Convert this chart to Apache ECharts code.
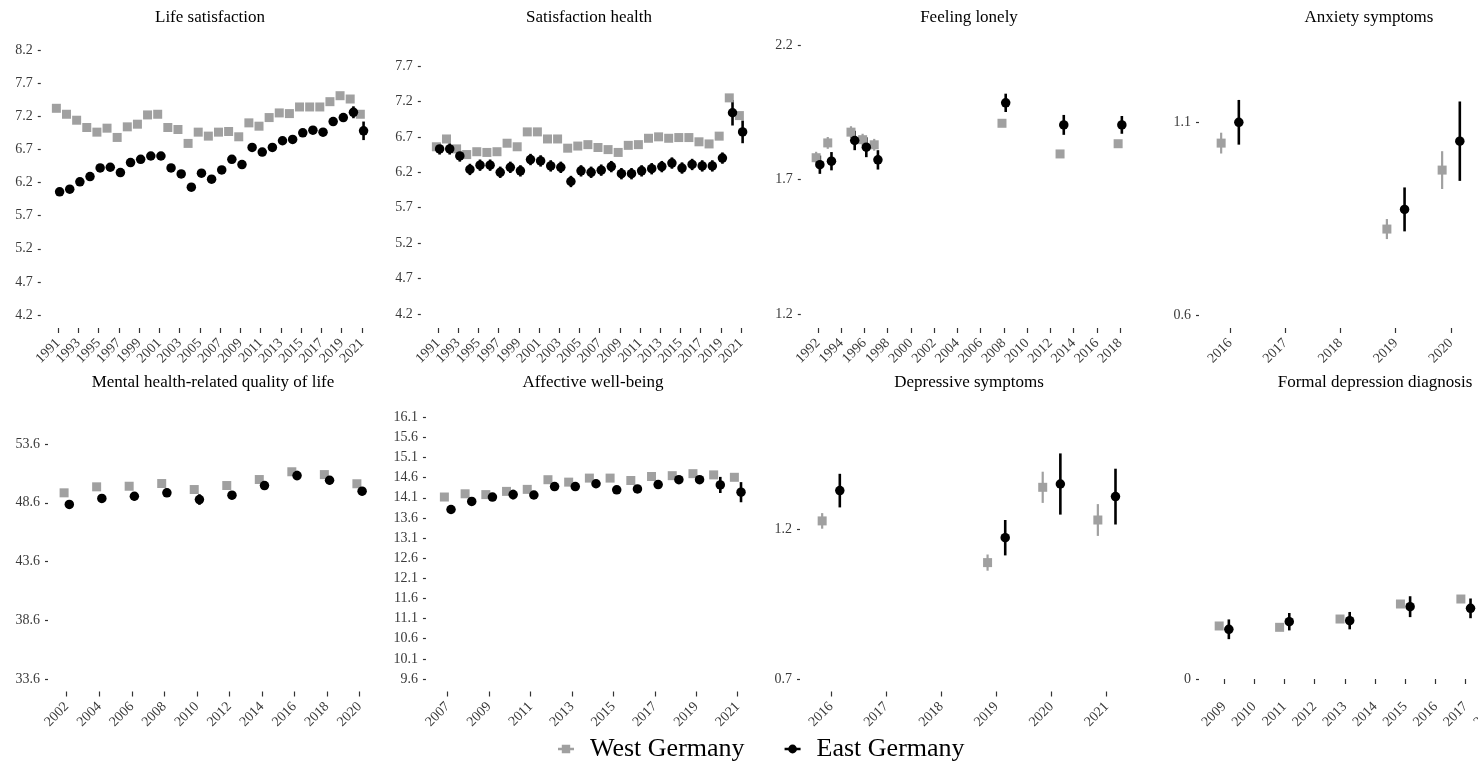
<!DOCTYPE html>
<html>
<head>
<meta charset="utf-8">
<script src="https://cdn.jsdelivr.net/npm/echarts@6/dist/echarts.min.js"></script>
<style>
  html, body { margin: 0; padding: 0; background: #ffffff; }
  #chart { width: 1478px; height: 772px; }
</style>
</head>
<body>
<div id="chart"></div>
<script>
// ---------- Life satisfaction ----------
const lifeYears = [1991,1992,1993,1994,1995,1996,1997,1998,1999,2000,2001,2002,2003,2004,2005,2006,2007,2008,2009,2010,2011,2012,2013,2014,2015,2016,2017,2018,2019,2020,2021];
const lifeWest = [7.32,7.23,7.14,7.03,6.96,7.02,6.88,7.04,7.08,7.22,7.23,7.03,7.00,6.79,6.96,6.90,6.96,6.97,6.89,7.10,7.05,7.18,7.25,7.24,7.34,7.34,7.34,7.42,7.51,7.46,7.23];
const lifeWestErr = [0.02,0.02,0.02,0.02,0.02,0.02,0.02,0.02,0.02,0.02,0.02,0.02,0.02,0.02,0.02,0.02,0.02,0.02,0.02,0.02,0.02,0.02,0.02,0.02,0.02,0.02,0.02,0.02,0.02,0.03,0.04];
const lifeEast = [6.06,6.10,6.21,6.29,6.42,6.43,6.35,6.50,6.55,6.60,6.60,6.42,6.33,6.13,6.34,6.25,6.39,6.55,6.47,6.73,6.66,6.73,6.83,6.85,6.95,6.99,6.96,7.12,7.18,7.26,6.98];
const lifeEastErr = [0.04,0.04,0.04,0.04,0.04,0.04,0.04,0.04,0.04,0.04,0.04,0.04,0.04,0.04,0.04,0.04,0.04,0.04,0.04,0.04,0.04,0.04,0.04,0.04,0.04,0.04,0.04,0.04,0.04,0.09,0.14];
const lifeXTicks = [1991,1993,1995,1997,1999,2001,2003,2005,2007,2009,2011,2013,2015,2017,2019,2021];
const lifeYTicks = [4.2,4.7,5.2,5.7,6.2,6.7,7.2,7.7,8.2];

// ---------- Satisfaction health ----------
const healthYears = [1991,1992,1993,1994,1995,1996,1997,1998,1999,2000,2001,2002,2003,2004,2005,2006,2007,2008,2009,2010,2011,2012,2013,2014,2015,2016,2017,2018,2019,2020,2021];
const healthWest = [6.56,6.67,6.53,6.45,6.49,6.48,6.49,6.61,6.56,6.77,6.77,6.67,6.67,6.54,6.57,6.59,6.55,6.52,6.48,6.58,6.59,6.68,6.70,6.68,6.69,6.69,6.63,6.60,6.71,7.25,7.00];
const healthWestErr = [0.02,0.02,0.02,0.02,0.02,0.02,0.02,0.02,0.02,0.02,0.02,0.02,0.02,0.02,0.02,0.02,0.02,0.02,0.02,0.02,0.02,0.02,0.02,0.02,0.02,0.02,0.02,0.02,0.02,0.04,0.04];
const healthEast = [6.53,6.53,6.43,6.24,6.30,6.30,6.20,6.27,6.22,6.38,6.36,6.29,6.27,6.07,6.22,6.20,6.23,6.28,6.18,6.18,6.22,6.25,6.28,6.33,6.26,6.31,6.29,6.29,6.40,7.04,6.77];
const healthEastErr = [0.08,0.08,0.08,0.08,0.08,0.08,0.08,0.08,0.08,0.08,0.08,0.08,0.08,0.08,0.08,0.08,0.08,0.08,0.08,0.08,0.08,0.08,0.08,0.08,0.08,0.08,0.08,0.08,0.08,0.18,0.16];
const healthXTicks = [1991,1993,1995,1997,1999,2001,2003,2005,2007,2009,2011,2013,2015,2017,2019,2021];
const healthYTicks = [4.2,4.7,5.2,5.7,6.2,6.7,7.2,7.7];

// ---------- Feeling lonely ----------
const lonelyYears = [1992,1993,1995,1996,1997,2008,2013,2018];
const lonelyWest = [1.781,1.836,1.876,1.848,1.829,1.909,1.795,1.833];
const lonelyWestErr = [0.022,0.022,0.022,0.022,0.022,0.012,0.012,0.012];
const lonelyEast = [1.755,1.768,1.845,1.820,1.773,1.985,1.903,1.903];
const lonelyEastErr = [0.034,0.034,0.036,0.037,0.036,0.034,0.037,0.033];
const lonelyXTicks = [1992,1994,1996,1998,2000,2002,2004,2006,2008,2010,2012,2014,2016,2018];
const lonelyYTicks = [1.2,1.7,2.2];

// ---------- Anxiety symptoms ----------
const anxYears = [2016,2019,2020];
const anxWest = [1.046,0.823,0.976];
const anxWestErr = [0.027,0.026,0.049];
const anxEast = [1.100,0.874,1.051];
const anxEastErr = [0.058,0.057,0.103];
const anxXTicks = [2016,2017,2018,2019,2020];
const anxYTicks = [0.6,1.1];

// ---------- Mental health-related quality of life ----------
const mhYears = [2002,2004,2006,2008,2010,2012,2014,2016,2018,2020];
const mhWest = [49.45,49.96,50.01,50.24,49.73,50.07,50.58,51.24,51.00,50.22];
const mhWestErr = [0.15,0.15,0.15,0.15,0.15,0.15,0.15,0.15,0.15,0.15];
const mhEast = [48.46,48.97,49.16,49.45,48.88,49.25,50.07,50.92,50.52,49.59];
const mhEastErr = [0.35,0.35,0.35,0.35,0.45,0.35,0.35,0.40,0.35,0.35];
const mhXTicks = [2002,2004,2006,2008,2010,2012,2014,2016,2018,2020];
const mhYTicks = [33.6,38.6,43.6,48.6,53.6];

// ---------- Affective well-being ----------
const awbYears = [2007,2008,2009,2010,2011,2012,2013,2014,2015,2016,2017,2018,2019,2020,2021];
const awbWest = [14.12,14.20,14.18,14.26,14.31,14.55,14.49,14.59,14.59,14.53,14.63,14.65,14.70,14.67,14.61];
const awbWestErr = [0.03,0.03,0.03,0.03,0.03,0.03,0.03,0.03,0.03,0.03,0.03,0.03,0.03,0.05,0.05];
const awbEast = [13.81,14.01,14.12,14.18,14.17,14.38,14.38,14.45,14.30,14.32,14.43,14.55,14.55,14.42,14.24];
const awbEastErr = [0.08,0.08,0.08,0.12,0.08,0.08,0.08,0.08,0.08,0.08,0.08,0.08,0.08,0.20,0.25];
const awbXTicks = [2007,2009,2011,2013,2015,2017,2019,2021];
const awbYTicks = [9.6,10.1,10.6,11.1,11.6,12.1,12.6,13.1,13.6,14.1,14.6,15.1,15.6,16.1];

// ---------- Depressive symptoms ----------
const depYears = [2016,2019,2020,2021];
const depWest = [1.227,1.088,1.339,1.230];
const depWestErr = [0.026,0.027,0.052,0.053];
const depEast = [1.328,1.171,1.350,1.308];
const depEastErr = [0.056,0.059,0.102,0.093];
const depXTicks = [2016,2017,2018,2019,2020,2021];
const depYTicks = [0.7,1.2];

// ---------- Formal depression diagnosis ----------
const diagYears = [2009,2011,2013,2015,2017];
const diagWest = [0.0914,0.0891,0.1034,0.1293,0.1379];
const diagWestErr = [0.006,0.006,0.006,0.006,0.006];
const diagEast = [0.0857,0.0988,0.1006,0.1247,0.1218];
const diagEastErr = [0.017,0.015,0.015,0.018,0.017];
const diagXTicks = [2009,2010,2011,2012,2013,2014,2015,2016,2017,2018];
const diagYTicks = [0];

// ---------- styling ----------
const FONT = '"Liberation Serif", "DejaVu Serif", serif';
const WEST_COLOR = '#a0a0a0';
const EAST_COLOR = '#000000';
const AXIS_TEXT = '#3a3a3a';
const DODGE = 0.16;   // horizontal offset of the two groups within a year

// panel layout: pixel box + axis ranges
const panels = [
  { title: 'Life satisfaction', titleAt: [210, 18],
    years: lifeYears, west: lifeWest, westErr: lifeWestErr, east: lifeEast, eastErr: lifeEastErr,
    xTicks: lifeXTicks, yTicks: lifeYTicks,
    box: { left: 40.77, top: 37, width: 338.4, height: 291 }, x: [1989.3, 2022.7], y: [4.004, 8.396] },
  { title: 'Satisfaction health', titleAt: [589, 18],
    years: healthYears, west: healthWest, westErr: healthWestErr, east: healthEast, eastErr: healthEastErr,
    xTicks: healthXTicks, yTicks: healthYTicks,
    box: { left: 420.83, top: 37, width: 337.34, height: 291 }, x: [1989.3, 2022.7], y: [4.0024, 8.109] },
  { title: 'Feeling lonely', titleAt: [969, 18],
    years: lonelyYears, west: lonelyWest, westErr: lonelyWestErr, east: lonelyEast, eastErr: lonelyEastErr,
    xTicks: lonelyXTicks, yTicks: lonelyYTicks,
    box: { left: 800.81, top: 37, width: 336.37, height: 291 }, x: [1990.52, 2019.48], y: [1.148, 2.2297] },
  { title: 'Anxiety symptoms', titleAt: [1369, 18],
    years: anxYears, west: anxWest, westErr: anxWestErr, east: anxEast, eastErr: anxEastErr,
    xTicks: anxXTicks, yTicks: anxYTicks,
    box: { left: 1199, top: 37, width: 337, height: 291 }, x: [2015.439, 2021.539], y: [0.5663, 1.3213] },
  { title: 'Mental health-related quality of life', titleAt: [213, 382.7],
    years: mhYears, west: mhWest, westErr: mhWestErr, east: mhEast, eastErr: mhEastErr,
    xTicks: mhXTicks, yTicks: mhYTicks,
    box: { left: 48, top: 401, width: 330.2, height: 290.5 }, x: [2000.85, 2021.15], y: [32.563, 57.255] },
  { title: 'Affective well-being', titleAt: [593, 382.7],
    years: awbYears, west: awbWest, westErr: awbWestErr, east: awbEast, eastErr: awbEastErr,
    xTicks: awbXTicks, yTicks: awbYTicks,
    box: { left: 425.95, top: 401, width: 333.5, height: 290.5 }, x: [2005.95, 2022.05], y: [9.2895, 16.505] },
  { title: 'Depressive symptoms', titleAt: [969, 382.7],
    years: depYears, west: depWest, westErr: depWestErr, east: depEast, eastErr: depEastErr,
    xTicks: depXTicks, yTicks: depYTicks,
    box: { left: 800, top: 401, width: 337, height: 290.5 }, x: [2015.438, 2021.55], y: [0.65833, 1.6267] },
  { title: 'Formal depression diagnosis', titleAt: [1375, 382.7],
    years: diagYears, west: diagWest, westErr: diagWestErr, east: diagEast, eastErr: diagEastErr,
    xTicks: diagXTicks, yTicks: diagYTicks,
    box: { left: 1199, top: 401, width: 337, height: 290.5 }, x: [2008.172, 2019.327], y: [-0.021552, 0.4793] }
];

function errorBarRenderer(color, width) {
  return function (params, api) {
    const lo = api.coord([api.value(0), api.value(2)]);
    const hi = api.coord([api.value(0), api.value(3)]);
    return {
      type: 'line',
      shape: { x1: lo[0], y1: lo[1], x2: hi[0], y2: hi[1] },
      style: { stroke: color, lineWidth: width, lineCap: 'butt' },
      silent: true
    };
  };
}

const grids = [], xAxes = [], yAxes = [], series = [], titles = [];

panels.forEach(function (p, i) {
  grids.push(Object.assign({ containLabel: false, outerBoundsMode: 'none' }, p.box));

  xAxes.push({
    type: 'value', gridIndex: i, min: p.x[0], max: p.x[1],
    axisLine: { show: false }, splitLine: { show: false },
    axisTick: { show: true, length: 5, customValues: p.xTicks, lineStyle: { color: '#333333', width: 1.2 } },
    axisLabel: {
      customValues: p.xTicks, rotate: 45, margin: 13,
      fontFamily: FONT, fontSize: 14, color: AXIS_TEXT,
      formatter: function (v) { return String(Math.round(v)); }
    }
  });

  yAxes.push({
    type: 'value', gridIndex: i, min: p.y[0], max: p.y[1],
    axisLine: { show: false }, splitLine: { show: false },
    axisTick: { show: true, length: 3, customValues: p.yTicks, lineStyle: { color: '#333333', width: 1.2 } },
    axisLabel: {
      customValues: p.yTicks, margin: 8,
      fontFamily: FONT, fontSize: 14, color: AXIS_TEXT,
      formatter: function (v) { return String(parseFloat(v.toFixed(2))); }
    }
  });

  const groups = [
    { name: 'West Germany', vals: p.west, errs: p.westErr, shift: -DODGE, color: WEST_COLOR, symbol: 'rect', size: 9, lw: 2.2 },
    { name: 'East Germany', vals: p.east, errs: p.eastErr, shift: DODGE, color: EAST_COLOR, symbol: 'circle', size: 9.5, lw: 2.6 }
  ];

  groups.forEach(function (g) {
    series.push({
      name: g.name, type: 'custom', coordinateSystem: 'cartesian2d',
      xAxisIndex: i, yAxisIndex: i, silent: true,
      itemStyle: { color: g.color },
      renderItem: errorBarRenderer(g.color, g.lw),
      encode: { x: 0, y: [1, 2, 3] },
      data: p.years.map(function (yr, k) {
        return [yr + g.shift, g.vals[k], g.vals[k] - g.errs[k], g.vals[k] + g.errs[k]];
      })
    });
    series.push({
      name: g.name, type: 'scatter',
      xAxisIndex: i, yAxisIndex: i, silent: true,
      symbol: g.symbol, symbolSize: g.size,
      itemStyle: { color: g.color, opacity: 1 },
      emphasis: { disabled: true },
      data: p.years.map(function (yr, k) { return [yr + g.shift, g.vals[k]]; })
    });
  });

  titles.push({
    type: 'text', x: p.titleAt[0], y: p.titleAt[1], silent: true,
    style: {
      text: p.title, fill: '#000000', fontFamily: FONT, fontSize: 17,
      align: 'center', verticalAlign: 'middle'
    }
  });
});

const chart = echarts.init(document.getElementById('chart'), null, { renderer: 'canvas' });
chart.setOption({
  animation: false,
  backgroundColor: '#ffffff',
  textStyle: { fontFamily: FONT },
  grid: grids,
  xAxis: xAxes,
  yAxis: yAxes,
  series: series,
  graphic: titles,
  tooltip: { show: false },
  legend: {
    left: 553, top: 731,
    itemWidth: 16, itemHeight: 10, itemGap: 40,
    selectedMode: false,
    textStyle: { fontFamily: FONT, fontSize: 26, color: '#000000', padding: [0, 0, 0, 11] },
    data: [
      { name: 'West Germany', icon: 'path://M0,3.7H16V6.3H0Z M3.8,0.8H12.2V9.2H3.8Z', itemStyle: { color: WEST_COLOR } },
      { name: 'East Germany', icon: 'path://M0,3.7H16V6.3H0Z M8,0.6A4.4,4.4,0,1,1,7.99,0.6Z', itemStyle: { color: EAST_COLOR } }
    ]
  }
});
</script>
</body>
</html>
